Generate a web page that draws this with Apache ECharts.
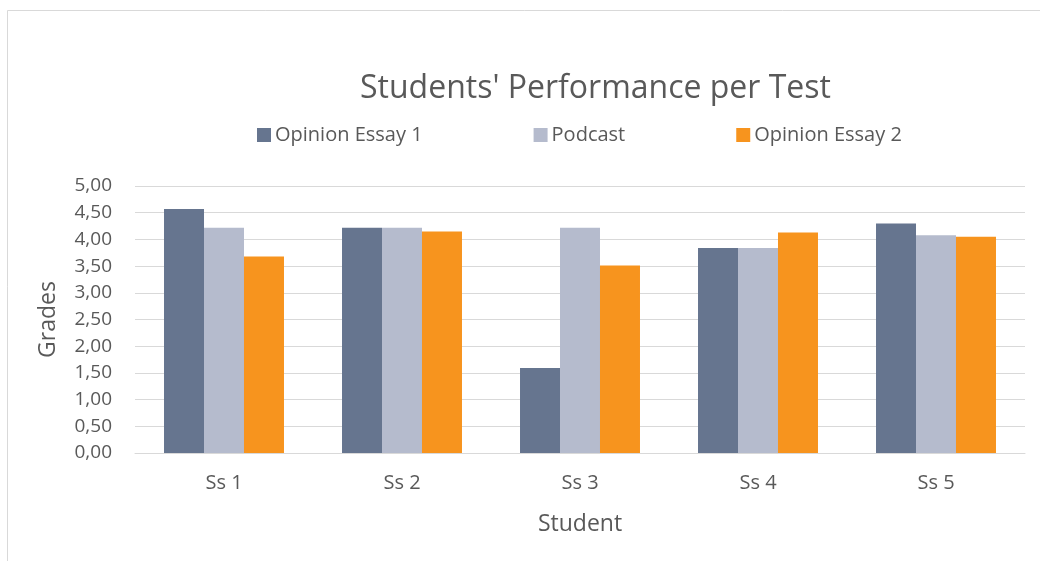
<!DOCTYPE html>
<html>
<head>
<meta charset="utf-8">
<script src="https://cdn.jsdelivr.net/npm/echarts@6/dist/echarts.min.js"></script>
<style>
  html, body { margin: 0; padding: 0; background: #fff; }
  #chart { width: 1040px; height: 561px; }
</style>
</head>
<body>
<div id="chart"></div>
<script>
// chart data
var students = ['Ss 1', 'Ss 2', 'Ss 3', 'Ss 4', 'Ss 5'];
var essay1 = [4.57, 4.22, 1.59, 3.84, 4.30];
var podcast = [4.22, 4.22, 4.22, 3.84, 4.08];
var essay2 = [3.68, 4.15, 3.51, 4.13, 4.05];

var font = 'Open Sans';
var textColor = '#595959';

var chart = echarts.init(document.getElementById('chart'));

function bar(name, data, color) {
  return {
    name: name,
    type: 'bar',
    data: data,
    barGap: '0%',
    barCategoryGap: '32.6%',
    itemStyle: { color: color },
    emphasis: { disabled: true }
  };
}

chart.setOption({
  animation: false,
  backgroundColor: '#fff',
  textStyle: { fontFamily: font },
  graphic: [{
    type: 'rect',
    shape: { x: 7.5, y: 10.5, width: 1100, height: 600 },
    style: { fill: 'none', stroke: '#d9d9d9', lineWidth: 1 },
    silent: true
  }],
  title: {
    text: "Students' Performance per Test",
    left: 355,
    top: 68,
    textStyle: { fontFamily: font, fontSize: 32, fontWeight: 'normal', color: textColor }
  },
  legend: {
    top: 120,
    left: 252,
    itemWidth: 14,
    itemHeight: 14,
    itemGap: 111,
    icon: 'rect',
    textStyle: { fontFamily: font, fontSize: 20, color: textColor, padding: [0, 0, 0, -1] },
    data: ['Opinion Essay 1', 'Podcast', 'Opinion Essay 2']
  },
  grid: { left: 135, right: 15, top: 186, bottom: 108 },
  xAxis: {
    type: 'category',
    data: students,
    name: 'Student',
    nameLocation: 'middle',
    nameGap: 60,
    nameTextStyle: { fontFamily: font, fontSize: 23, color: textColor },
    axisLine: { lineStyle: { color: '#d9d9d9' } },
    axisTick: { show: false },
    axisLabel: { fontFamily: font, fontSize: 20, color: textColor, margin: 20 }
  },
  yAxis: {
    type: 'value',
    min: 0,
    max: 5,
    interval: 0.5,
    name: 'Grades',
    nameLocation: 'middle',
    nameGap: 75,
    nameTextStyle: { fontFamily: font, fontSize: 23, color: textColor },
    axisLine: { show: false },
    axisTick: { show: false },
    splitLine: { lineStyle: { color: '#d9d9d9', width: 1 } },
    axisLabel: {
      fontFamily: font, fontSize: 19, color: textColor, margin: 23,
      formatter: function (v) { return v.toFixed(2).replace('.', ','); }
    }
  },
  series: [
    bar('Opinion Essay 1', essay1, '#66758f'),
    bar('Podcast', podcast, '#b5bbcd'),
    bar('Opinion Essay 2', essay2, '#f7941e')
  ]
});
</script>
</body>
</html>
